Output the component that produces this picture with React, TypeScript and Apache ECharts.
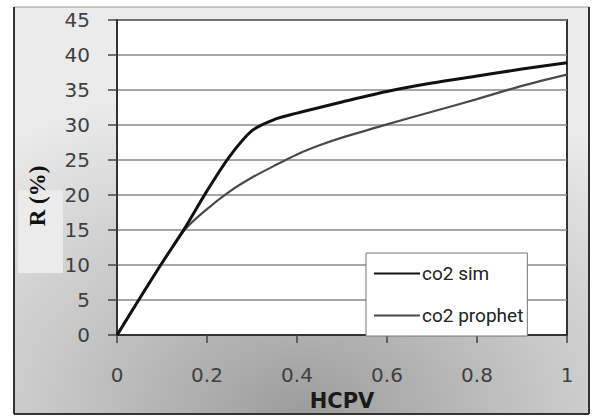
import React, { useEffect, useRef } from "react";
import * as echarts from "echarts";

const hcpv = [0, 0.05, 0.1, 0.15, 0.2, 0.25, 0.3, 0.35, 0.4, 0.45, 0.5, 0.6, 0.7, 0.8, 0.9, 1];
const co2Sim = [0, 5.2, 10.3, 15.2, 20.6, 25.5, 29.2, 30.8, 31.7, 32.5, 33.3, 34.8, 36.0, 37.0, 38.0, 38.9];
const co2Prophet = [0, 5.2, 10.3, 15.0, 18.0, 20.5, 22.5, 24.2, 25.8, 27.1, 28.2, 30.1, 31.9, 33.7, 35.6, 37.2];
const seriesNames = ["co2 sim", "co2 prophet"];
const xTitle = "HCPV";
const yTitle = "R (%)";

export default function App() {
  const ref = useRef<HTMLDivElement>(null);
  useEffect(() => {
    if (!ref.current) return;
    const chart = echarts.init(ref.current, undefined, { renderer: "svg" });
    const tickFont = { fontFamily: "DejaVu Sans", fontSize: 20, color: "#404040" };
    chart.setOption({
      animation: false,
      graphic: [
        {
          type: "rect",
          z: -100,
          silent: true,
          shape: { x: 14, y: 7, width: 575, height: 407 },
          style: {
            fill: new echarts.graphic.RadialGradient(0.5, 1, 0.85, [
              { offset: 0, color: "#9c9c9c" },
              { offset: 0.5, color: "#c6c6c6" },
              { offset: 1, color: "#ebebeb" },
            ]),
            stroke: "#9a9a9a",
            lineWidth: 1,
          },
        },
        { type: "line", z: -99, silent: true, shape: { x1: 14, y1: 7, x2: 14, y2: 414 }, style: { stroke: "#333", lineWidth: 2 } },
        { type: "line", z: -99, silent: true, shape: { x1: 589, y1: 7, x2: 589, y2: 414 }, style: { stroke: "#333", lineWidth: 2 } },
        { type: "line", z: -99, silent: true, shape: { x1: 14, y1: 414, x2: 589, y2: 414 }, style: { stroke: "#333", lineWidth: 2 } },
        {
          type: "rect",
          z: -98,
          silent: true,
          shape: { x: 18, y: 190, width: 45, height: 83 },
          style: { fill: "#ebebeb" },
        },
        {
          type: "text",
          z: 10,
          x: 37,
          y: 196,
          rotation: Math.PI / 2,
          style: {
            text: yTitle,
            fontFamily: "Liberation Serif",
            fontWeight: "bold",
            fontSize: 23,
            fill: "#111",
            align: "center",
            verticalAlign: "middle",
          },
        },
      ],
      grid: {
        left: 117,
        top: 20,
        width: 450,
        height: 317,
        show: true,
        backgroundColor: "#ffffff",
        borderColor: "#333",
        borderWidth: 2,
      },
      legend: {
        left: 366,
        top: 253,
        orient: "vertical",
        data: seriesNames,
        backgroundColor: "#ffffff",
        borderColor: "#777",
        borderWidth: 1,
        borderRadius: 0,
        padding: [11, 4, 11, 7],
        itemWidth: 46,
        itemHeight: 14,
        itemGap: 23,
        itemStyle: { opacity: 0 },
        textStyle: { fontFamily: "Roboto", fontSize: 19, color: "#222", padding: [0, 0, 0, -3] },
      },
      xAxis: {
        type: "value",
        min: 0,
        max: 1,
        interval: 0.2,
        name: xTitle,
        nameLocation: "middle",
        nameGap: 50,
        nameTextStyle: { fontFamily: "DejaVu Sans", fontWeight: "bold", fontSize: 21, color: "#1a1a1a" },
        axisLine: { show: true, lineStyle: { color: "#333", width: 2 } },
        axisTick: { show: true, length: 8, lineStyle: { color: "#444", width: 1.5 } },
        axisLabel: { ...tickFont, margin: 30, formatter: (v: number) => String(Math.round(v * 10) / 10) },
        splitLine: { show: false },
      },
      yAxis: {
        type: "value",
        min: 0,
        max: 45,
        interval: 5,
        axisLine: { show: true, lineStyle: { color: "#333", width: 2 } },
        axisTick: { show: true, length: 9, lineStyle: { color: "#444", width: 1.5 } },
        axisLabel: { ...tickFont, margin: 27 },
        splitLine: { show: true, lineStyle: { color: "#8a8a8a", width: 1.6 } },
      },
      series: [
        {
          name: seriesNames[0],
          type: "line",
          data: hcpv.map((x, i) => [x, co2Sim[i]]),
          symbol: "none",
          smooth: 0.3,
          lineStyle: { color: "#111", width: 3 },
          itemStyle: { color: "#111" },
          z: 3,
        },
        {
          name: seriesNames[1],
          type: "line",
          data: hcpv.map((x, i) => [x, co2Prophet[i]]),
          symbol: "none",
          smooth: 0.3,
          lineStyle: { color: "#4a4a4a", width: 2.2 },
          itemStyle: { color: "#4a4a4a" },
          z: 2,
        },
      ],
    });
    return () => chart.dispose();
  }, []);
  return <div ref={ref} style={{ width: 593, height: 416, position: "absolute", left: 0, top: 0 }} />;
}
